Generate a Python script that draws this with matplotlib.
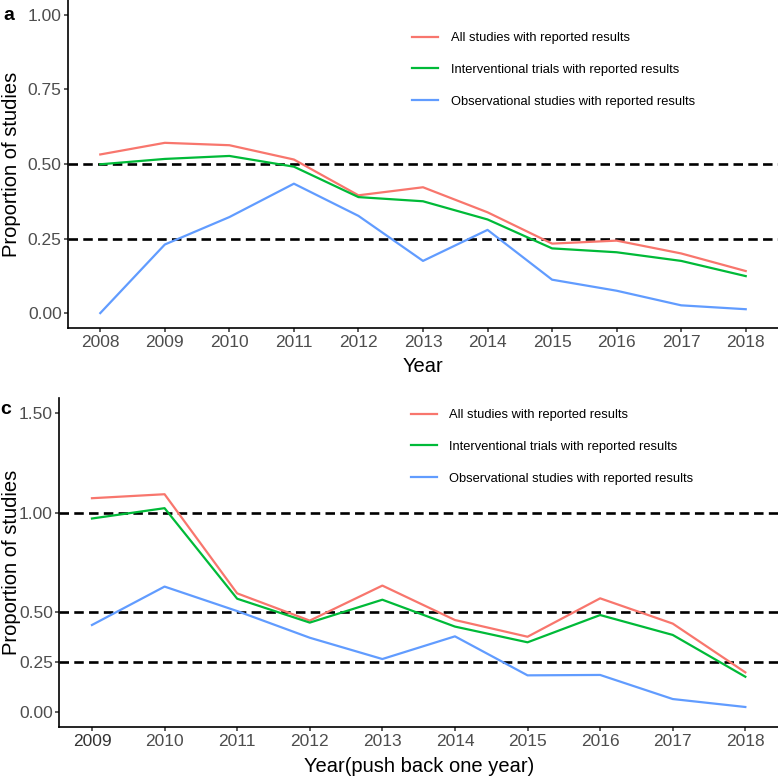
import matplotlib
matplotlib.use("Agg")
import matplotlib.pyplot as plt

plt.rcParams['font.family'] = ['Liberation Sans', 'DejaVu Sans']

# panel a: year of registration
years_a = [2008, 2009, 2010, 2011, 2012, 2013, 2014, 2015, 2016, 2017, 2018]
all_a = [0.532, 0.571, 0.563, 0.515, 0.395, 0.422, 0.338, 0.233, 0.243, 0.200, 0.141]
interv_a = [0.499, 0.517, 0.527, 0.491, 0.389, 0.375, 0.314, 0.217, 0.204, 0.175, 0.124]
obs_a = [0.000, 0.230, 0.322, 0.434, 0.326, 0.175, 0.279, 0.112, 0.075, 0.026, 0.013]

# panel c: pushed back one year
years_c = [2009, 2010, 2011, 2012, 2013, 2014, 2015, 2016, 2017, 2018]
all_c = [1.073, 1.093, 0.595, 0.458, 0.634, 0.461, 0.377, 0.570, 0.443, 0.198]
interv_c = [0.971, 1.023, 0.568, 0.448, 0.563, 0.428, 0.349, 0.486, 0.386, 0.176]
obs_c = [0.436, 0.629, 0.506, 0.372, 0.265, 0.379, 0.183, 0.185, 0.064, 0.024]

labels = ["All studies with reported results",
          "Interventional trials with reported results",
          "Observational studies with reported results"]
colors = ["#F8766D", "#00BA38", "#619CFF"]

yticks_a = [0, 0.25, 0.5, 0.75, 1.0]
yticks_c = [0, 0.25, 0.5, 1.0, 1.5]
hlines_a = [0.5, 0.25]
hlines_c = [1.0, 0.5, 0.25]

W = 778.0
fig = plt.figure(figsize=(7.78, 7.78), dpi=100)
ax1 = fig.add_axes([68 / W, 1 - 328 / W, 1 - 68 / W, 328 / W])
ax2 = fig.add_axes([59.3 / W, 1 - 726.7 / W, 1 - 59.3 / W, 328.4 / W])


def style(ax, years, yticks, hl, ylim, xlabel, xlab_y, ylab_x):
    for h in hl:
        ax.axhline(h, color='black', lw=1.9, dashes=(3.6, 2.0), zorder=1)
    span = years[-1] - years[0]
    ax.set_xlim(years[0] - 0.05 * span, years[-1] + 0.05 * span)
    ax.set_ylim(*ylim)
    ax.set_xticks(years)
    ax.set_xticklabels([str(y) for y in years])
    ax.set_yticks(yticks)
    ax.set_yticklabels(["%.2f" % t for t in yticks])
    for s in ['top', 'right']:
        ax.spines[s].set_visible(False)
    for s in ['left', 'bottom']:
        ax.spines[s].set_linewidth(1.2)
    ax.tick_params(axis='both', length=2.75, width=1.1, color='#333333',
                   labelsize=12.5, labelcolor='#4D4D4D')
    ax.tick_params(axis='x', pad=2.5)
    ax.tick_params(axis='y', pad=1.8)
    ax.set_xlabel(xlabel, fontsize=14.5, va='center')
    ax.xaxis.set_label_coords(0.5, xlab_y)
    ax.set_ylabel("Proportion of studies", fontsize=14.5, va='center')
    ax.yaxis.set_label_coords(ylab_x, 0.5)
    ax.patch.set_alpha(0)


for vals, c, lab in zip([all_a, interv_a, obs_a], colors, labels):
    ax1.plot(years_a, vals, color=c, lw=1.6, label=lab, zorder=3)
style(ax1, years_a, yticks_a, hlines_a, (-0.05, 1.05), "Year", -0.116, -0.079)

for vals, c, lab in zip([all_c, interv_c, obs_c], colors, labels):
    ax2.plot(years_c, vals, color=c, lw=1.6, label=lab, zorder=3)
style(ax2, years_c, yticks_c, hlines_c, (-0.075, 1.575), "Year(push back one year)", -0.1227, -0.066)
ax2.get_xticklabels()[0].set_color('#333333')

for ax, x0, y0 in [(ax1, 412, 32), (ax2, 410.7, 409)]:
    ax.legend(loc='upper left', bbox_to_anchor=(x0 / W, 1 - y0 / W),
              bbox_transform=fig.transFigure, frameon=False, fontsize=9.3,
              handlelength=2.0, handletextpad=1.0, labelspacing=1.54,
              borderpad=0, borderaxespad=0)

fig.text(9 / W, 1 - 15 / W, "a", fontsize=14, fontweight='bold', ha='center', va='center')
fig.text(6 / W, 1 - 410 / W, "c", fontsize=14, fontweight='bold', ha='center', va='center')

fig.savefig("out.png", dpi=100)
